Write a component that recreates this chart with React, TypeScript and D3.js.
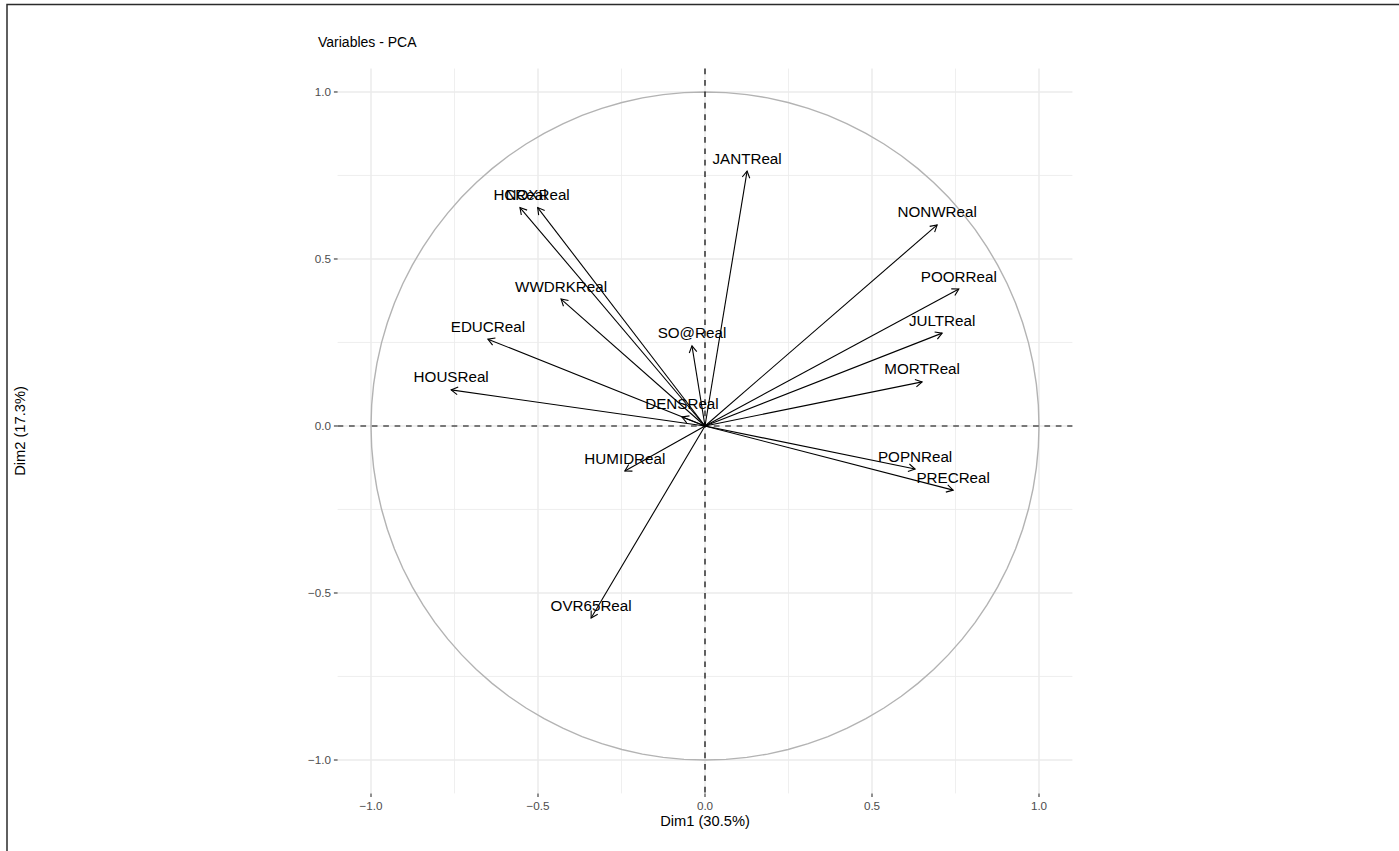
import { useEffect, useRef } from 'react';
import * as d3 from 'd3';

const variables = ['PRECReal', 'JANTReal', 'JULTReal', 'OVR65Real', 'POPNReal', 'EDUCReal', 'HOUSReal', 'DENSReal',
    'NONWReal', 'WWDRKReal', 'POORReal', 'HCReal', 'NOXReal', 'SO@Real', 'HUMIDReal', 'MORTReal'];
const dim1 = [0.743, 0.126, 0.710, -0.341, 0.629, -0.650, -0.760, -0.069,
    0.695, -0.431, 0.760, -0.554, -0.501, -0.039, -0.240, 0.650];
const dim2 = [-0.192, 0.763, 0.278, -0.575, -0.129, 0.260, 0.108, 0.027,
    0.602, 0.380, 0.410, 0.654, 0.654, 0.240, -0.135, 0.132];
const majorTicks = [-1, -0.5, 0, 0.5, 1];
const minorTicks = [-0.75, -0.25, 0.25, 0.75];

const font = '"Liberation Sans", Arial, Helvetica, sans-serif';

const App = () => {
    const svgRef = useRef<SVGSVGElement>(null);

    useEffect(() => {
        const root = d3.select(svgRef.current);
        root.selectAll('*').remove();

        // panel bounds, coord_fixed so both axes share the same unit length
        const x = d3.scaleLinear().domain([-1.1, 1.1]).range([337.6, 1072.4]);
        const y = d3.scaleLinear().domain([-1.1, 1.07]).range([793.4, 68.6]);
        const [px0, px1] = x.range();
        const [py1, py0] = y.range();

        // outer frame
        root.append('rect')
            .attr('x', 7).attr('y', 4.5).attr('width', 3000).attr('height', 3000)
            .attr('fill', 'none').attr('stroke', '#2b2b2b').attr('stroke-width', 1.5);

        const grid = root.append('g');
        minorTicks.forEach(t => {
            grid.append('line').attr('x1', x(t)).attr('x2', x(t)).attr('y1', py0).attr('y2', py1)
                .attr('stroke', '#ebebeb').attr('stroke-width', 0.8);
            grid.append('line').attr('y1', y(t)).attr('y2', y(t)).attr('x1', px0).attr('x2', px1)
                .attr('stroke', '#ebebeb').attr('stroke-width', 0.8);
        });
        majorTicks.forEach(t => {
            grid.append('line').attr('x1', x(t)).attr('x2', x(t)).attr('y1', py0).attr('y2', py1)
                .attr('stroke', '#ebebeb').attr('stroke-width', 1.5);
            grid.append('line').attr('y1', y(t)).attr('y2', y(t)).attr('x1', px0).attr('x2', px1)
                .attr('stroke', '#ebebeb').attr('stroke-width', 1.5);
        });

        // correlation circle
        const circlePts = d3.range(0, 101).map(i => [Math.cos(i / 100 * 2 * Math.PI), Math.sin(i / 100 * 2 * Math.PI)]);
        root.append('path')
            .attr('d', d3.line<number[]>().x(d => x(d[0])).y(d => y(d[1]))(circlePts))
            .attr('fill', 'none').attr('stroke', '#b3b3b3').attr('stroke-width', 1.4);

        // reference lines
        root.append('line').attr('x1', px0).attr('x2', px1).attr('y1', y(0)).attr('y2', y(0))
            .attr('stroke', '#000').attr('stroke-width', 1.2).attr('stroke-dasharray', '5.7,5.7');
        root.append('line').attr('x1', x(0)).attr('x2', x(0)).attr('y1', py0).attr('y2', py1)
            .attr('stroke', '#000').attr('stroke-width', 1.2).attr('stroke-dasharray', '5.7,5.7');

        const data = variables.map((name, i) => ({ name, d1: dim1[i], d2: dim2[i] }));

        const arrows = root.append('g').attr('stroke', '#000').attr('stroke-width', 1.1).attr('fill', 'none');
        const headLen = 7.6;
        data.forEach(d => {
            const x0 = x(0), y0 = y(0), x1 = x(d.d1), y1 = y(d.d2);
            arrows.append('line').attr('x1', x0).attr('y1', y0).attr('x2', x1).attr('y2', y1);
            const ang = Math.atan2(y1 - y0, x1 - x0);
            const pts = [ang + Math.PI - Math.PI / 6, ang + Math.PI + Math.PI / 6]
                .map(a => [x1 + headLen * Math.cos(a), y1 + headLen * Math.sin(a)]);
            arrows.append('path')
                .attr('d', `M${pts[0][0]},${pts[0][1]}L${x1},${y1}L${pts[1][0]},${pts[1][1]}`);
        });

        root.append('g').selectAll('text')
            .data(data).enter().append('text')
            .attr('x', d => x(d.d1)).attr('y', d => y(d.d2) - 7.5)
            .attr('text-anchor', 'middle')
            .attr('font-family', font).attr('font-size', 15.2).attr('fill', '#000')
            .text(d => d.name);

        // axes
        const axisG = root.append('g').attr('font-family', font);
        majorTicks.forEach(t => {
            axisG.append('line').attr('x1', x(t)).attr('x2', x(t)).attr('y1', py1).attr('y2', py1 + 3.7)
                .attr('stroke', '#333').attr('stroke-width', 1.1);
            axisG.append('text').attr('x', x(t)).attr('y', py1 + 3.7 + 2.9 + 9.5)
                .attr('text-anchor', 'middle').attr('font-size', 11.7).attr('fill', '#4d4d4d')
                .text(d3.format('.1f')(t));
            axisG.append('line').attr('y1', y(t)).attr('y2', y(t)).attr('x1', px0 - 3.7).attr('x2', px0)
                .attr('stroke', '#333').attr('stroke-width', 1.1);
            axisG.append('text').attr('x', px0 - 3.7 - 2.9).attr('y', y(t) + 4.2)
                .attr('text-anchor', 'end').attr('font-size', 11.7).attr('fill', '#4d4d4d')
                .text(d3.format('.1f')(t));
        });

        axisG.append('text').attr('x', (px0 + px1) / 2).attr('y', 826)
            .attr('text-anchor', 'middle').attr('font-size', 14.67).attr('fill', '#000')
            .text('Dim1 (30.5%)');
        axisG.append('text')
            .attr('transform', `translate(25,${(py0 + py1) / 2}) rotate(-90)`)
            .attr('text-anchor', 'middle').attr('font-size', 14.67).attr('fill', '#000')
            .text('Dim2 (17.3%)');

        root.append('text').attr('x', 318).attr('y', 47)
            .attr('font-family', font).attr('font-size', 14).attr('fill', '#000')
            .text('Variables - PCA');
    }, []);

    return (
        <svg ref={svgRef} width={1399} height={851}
            style={{ position: 'absolute', left: 0, top: 0, background: '#fff' }} />
    );
};

export default App;
